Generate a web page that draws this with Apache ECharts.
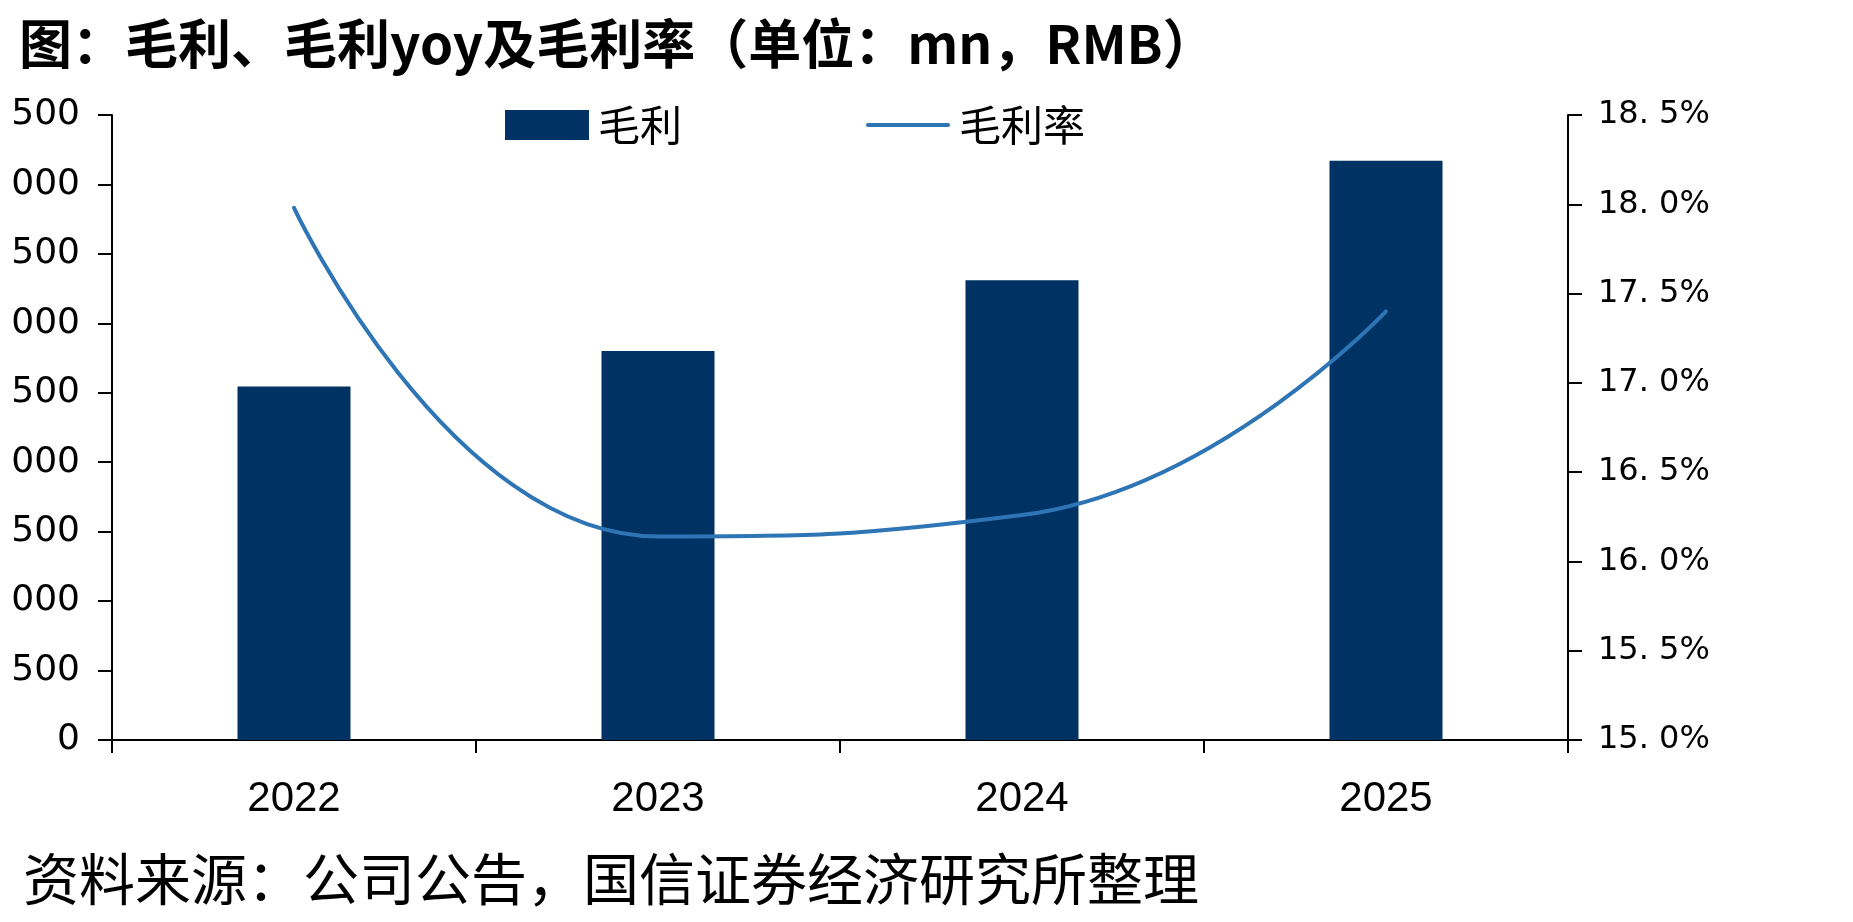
<!DOCTYPE html>
<html>
<head>
<meta charset="utf-8">
<style>
  html, body { margin: 0; padding: 0; background: #fff; }
  #main { width: 1853px; height: 922px; }
</style>
<script src="https://cdn.jsdelivr.net/npm/echarts@6/dist/echarts.min.js"></script>
</head>
<body>
<div id="main"></div>
<script>
// 数据
var years = ['2022', '2023', '2024', '2025'];
var grossProfit = [2545, 2800, 3310, 4170];      // 毛利 (mn RMB)
var grossMargin = [17.98, 16.14, 16.26, 17.40];  // 毛利率 (%)
var leftTicks = { min: 0, max: 4500, interval: 500 };
var rightTicks = { min: 15, max: 18.5, interval: 0.5 };

var numFont = 'DejaVu Sans';
var cjkFont = '"Noto Sans CJK SC", sans-serif';

// 图例里折线的图标：只画一条线，不带圆点
var lineIcon = 'path://M0,0M84,30M2,13L82,13A2,2,0,0,1,82,17L2,17A2,2,0,0,1,2,13Z';

var myChart = echarts.init(document.getElementById('main'));
var option = {
    animation: false,
    backgroundColor: '#fff',
    title: [
        {
            text: '图：毛利、毛利yoy及毛利率（单位：mn，RMB）',
            left: 14,
            top: 12,
            textStyle: { fontFamily: cjkFont, fontSize: 53, fontWeight: 'bold', color: '#000' }
        },
        {
            text: '资料来源：公司公告，国信证券经济研究所整理',
            left: 18,
            top: 846,
            textStyle: { fontFamily: cjkFont, fontSize: 56, fontWeight: 'normal', color: '#000' }
        }
    ],
    legend: {
        left: 500,
        top: 99,
        itemGap: 184,
        itemWidth: 84,
        itemHeight: 30,
        textStyle: { fontFamily: cjkFont, fontSize: 42, color: '#000', padding: [0, 0, 0, 4] },
        data: [
            { name: '毛利', icon: 'rect' },
            { name: '毛利率', icon: lineIcon, itemStyle: { color: '#2E75B6' } }
        ]
    },
    grid: {
        left: 112,
        right: 285,
        top: 115,
        bottom: 182,
        containLabel: false,
        outerBoundsMode: 'none'
    },
    xAxis: {
        type: 'category',
        data: years,
        boundaryGap: true,
        axisLine: { lineStyle: { color: '#000', width: 2 } },
        axisTick: { show: true, length: 13, inside: false, alignWithLabel: false, lineStyle: { color: '#000', width: 2 } },
        axisLabel: { margin: 38, color: '#000', fontFamily: 'Liberation Sans', fontSize: 42 }
    },
    yAxis: [
        {
            type: 'value',
            min: leftTicks.min,
            max: leftTicks.max,
            interval: leftTicks.interval,
            splitLine: { show: false },
            axisLine: { show: true, lineStyle: { color: '#000', width: 2 } },
            axisTick: { show: true, length: 14, lineStyle: { color: '#000', width: 2 } },
            axisLabel: {
                margin: 32,
                color: '#000',
                fontFamily: numFont,
                fontSize: 36,
                // 千位用空格分隔，画布左边缘会截掉千位数字（与原图一致）
                formatter: function (v) { return v >= 1000 ? Math.floor(v / 1000) + ' ' + String(v % 1000).padStart(3, '0') : String(v); }
            }
        },
        {
            type: 'value',
            min: rightTicks.min,
            max: rightTicks.max,
            interval: rightTicks.interval,
            splitLine: { show: false },
            axisLine: { show: true, lineStyle: { color: '#000', width: 2 } },
            axisTick: { show: true, length: 14, lineStyle: { color: '#000', width: 2 } },
            axisLabel: {
                margin: 30,
                color: '#000',
                fontFamily: numFont,
                fontSize: 32,
                formatter: function (v) { return v.toFixed(1).replace('.', '. ') + '%'; }
            }
        }
    ],
    series: [
        {
            name: '毛利',
            type: 'bar',
            data: grossProfit,
            barWidth: 113,
            itemStyle: { color: '#003263' }
        },
        {
            name: '毛利率',
            type: 'line',
            yAxisIndex: 1,
            data: grossMargin,
            smooth: 0.5,
            symbol: 'none',
            lineStyle: { color: '#2E75B6', width: 4, cap: 'round' },
            itemStyle: { color: '#2E75B6' }
        }
    ]
};
myChart.setOption(option);
</script>
</body>
</html>
